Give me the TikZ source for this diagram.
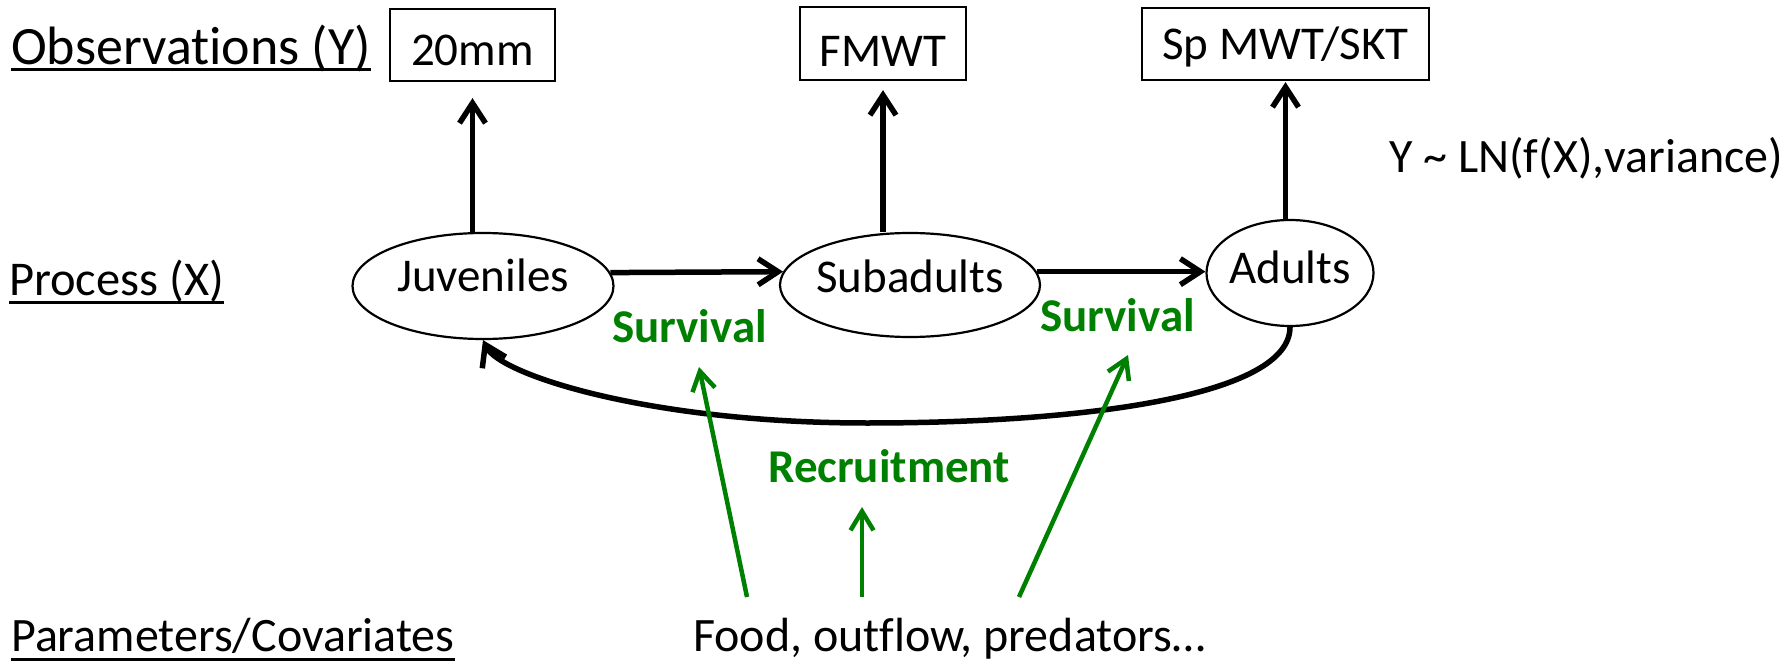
\documentclass[tikz,border=0pt]{standalone}
\usepackage{fontspec}
\setmainfont{Carlito}[Ligatures={NoCommon}]
\usetikzlibrary{arrows.meta,shapes.geometric}
\definecolor{pgreen}{RGB}{0,128,0}
\begin{document}
\begin{tikzpicture}[x=1pt,y=-1pt,
  lbl/.style={anchor=base west,inner sep=0pt,font=\fontsize{48}{56}\selectfont},
  obsbox/.style={draw,line width=2.2pt,rectangle,inner sep=0pt,font=\fontsize{47}{56}\selectfont},
  stage/.style={draw,line width=2.2pt,ellipse,inner sep=0pt,font=\fontsize{47}{56}\selectfont},
  grn/.style={anchor=base west,inner sep=0pt,text=pgreen,font=\fontsize{47}{56}\selectfont\bfseries},
  barrow/.style={line width=5.5pt,-{Straight Barb[length=20pt,width=26pt]}},
  garrow/.style={line width=4.5pt,draw=pgreen,-{Straight Barb[length=19pt,width=23pt]}},
  uline/.style={line width=3pt}
]
\useasboundingbox (0,0) rectangle (1788,663);

% row labels
\node[lbl,font=\fontsize{54}{60}\selectfont] (obs) at (11,65) {Observations (Y)};
\draw[uline] ([yshift=-5pt]obs.base west) -- ([yshift=-5pt]obs.base east);
\node[lbl,font=\fontsize{48.5}{56}\selectfont] (proc) at (9,295) {Process (X)};
\draw[uline] ([yshift=-7pt]proc.base west) -- ([yshift=-7pt]proc.base east);
\node[lbl,font=\fontsize{48}{56}\selectfont] (par) at (11,651) {Parameters/Covariates};
\draw[uline] ([yshift=-8pt]par.base west) -- ([yshift=-8pt]par.base east);

% observation boxes
\node[obsbox,minimum width=165pt,minimum height=72pt,text height=42pt,text depth=0pt] (o1) at (472.5,45) {\makebox[0pt]{20mm}};
\node[obsbox,minimum width=166pt,minimum height=73pt,text height=47pt,text depth=0pt] (o2) at (883,43.5) {\makebox[0pt]{FMWT}};
\node[obsbox,minimum width=287pt,minimum height=72pt,text height=40pt,text depth=8pt] (o3) at (1285.5,44) {\makebox[0pt]{Sp MWT/SKT}};

% process stages
\node[stage,minimum width=261pt,minimum height=106pt,text height=20pt,text depth=10pt] (J) at (483,286) {\makebox[0pt]{Juveniles}};
\node[stage,minimum width=260pt,minimum height=104pt,text height=24pt,text depth=10pt] (S) at (910,285) {\makebox[0pt]{Subadults}};
\node[stage,minimum width=167pt,minimum height=106pt,text height=25pt,text depth=5pt] (A) at (1290,273) {\makebox[0pt]{Adults}};

% observation model
\node[lbl] (ylab) at (1389,173) {Y \textasciitilde\ LN(f(X),variance)};

% arrows to observations
\draw[barrow,shorten >=16pt] (J.north -| o1.south) -- (o1.south);
\draw[barrow,shorten >=9pt] (S.north -| o2.south) -- (o2.south);
\draw[barrow,shorten >=1pt] (A.north -| o3.south) -- (o3.south);

% transitions
\draw[barrow] (J.6) -- (S.174);
\draw[barrow] (S.6) -- (S.6 -| A.west);
\draw[barrow] (A.south) .. controls (1290,395) and (1090,423) .. (867,423)
                        .. controls (650,423) and (500,375) .. (J.south);

% green labels
\node[grn] (s1) at (612,342) {Survival};
\node[grn] (s2) at (1040,331) {Survival};
\node[grn] (rec) at (768,482) {Recruitment};

% covariates
\node[lbl] (food) at (693,651) {Food, outflow, predators…};
\coordinate (f1) at (747,597);
\coordinate (f2) at (862,597);
\coordinate (f3) at (1019,597);
\coordinate (t1) at (699,367);
\coordinate (t2) at (862,507);
\coordinate (t3) at (1128,355);
\draw[garrow] (f1) -- (t1);
\draw[garrow] (f2) -- (t2);
\draw[garrow] (f3) -- (t3);
\end{tikzpicture}
\end{document}
